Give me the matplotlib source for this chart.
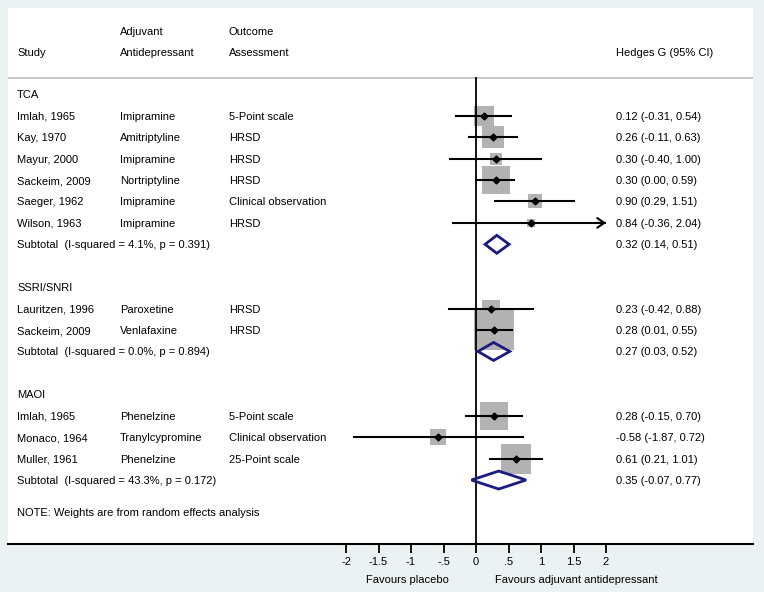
import matplotlib
matplotlib.use("Agg")
import matplotlib.pyplot as plt
import matplotlib.transforms as mtransforms
import numpy as np

plt.rcParams['font.family'] = ['Liberation Sans', 'DejaVu Sans']

# ---------------- data ----------------
groups = ["TCA", "SSRI/SNRI", "MAOI"]
study = ["Imlah, 1965", "Kay, 1970", "Mayur, 2000", "Sackeim, 2009", "Saeger, 1962", "Wilson, 1963",
         "Lauritzen, 1996", "Sackeim, 2009",
         "Imlah, 1965", "Monaco, 1964", "Muller, 1961"]
drug = ["Imipramine", "Amitriptyline", "Imipramine", "Nortriptyline", "Imipramine", "Imipramine",
        "Paroxetine", "Venlafaxine",
        "Phenelzine", "Tranylcypromine", "Phenelzine"]
outcome = ["5-Point scale", "HRSD", "HRSD", "HRSD", "Clinical observation", "HRSD",
           "HRSD", "HRSD",
           "5-Point scale", "Clinical observation", "25-Point scale"]
group_idx = [0, 0, 0, 0, 0, 0, 1, 1, 2, 2, 2]
g = [0.12, 0.26, 0.30, 0.30, 0.90, 0.84, 0.23, 0.28, 0.28, -0.58, 0.61]
lo = [-0.31, -0.11, -0.40, 0.00, 0.29, -0.36, -0.42, 0.01, -0.15, -1.87, 0.21]
hi = [0.54, 0.63, 1.00, 0.59, 1.51, 2.04, 0.88, 0.55, 0.70, 0.72, 1.01]
weights = [6.7, 8.1, 2.8, 13.1, 3.3, 1.1, 5.4, 26.7, 14.0, 3.8, 15.0]  # % (estimated)

sub_g = [0.32, 0.27, 0.35]
sub_lo = [0.14, 0.03, -0.07]
sub_hi = [0.51, 0.52, 0.77]
sub_i2 = [4.1, 0.0, 43.3]
sub_p = [0.391, 0.894, 0.172]

xticks = [-2, -1.5, -1, -0.5, 0, 0.5, 1, 1.5, 2]
xticklabels = ["-2", "-1.5", "-1", "-.5", "0", ".5", "1", "1.5", "2"]
axis_max = 2.0

# ---------------- style ----------------
BG = "#EAF2F3"
NAVY = "#1c1c80"
BOX = "#B2B2B2"
FS = 8

fig = plt.figure(figsize=(7.64, 5.92), dpi=100, facecolor=BG)
W, H = 764, 592
ax_l, ax_r, ax_t, ax_b = 8, 753, 8, 544
ax = fig.add_axes([ax_l / W, (H - ax_b) / H, (ax_r - ax_l) / W, (ax_b - ax_t) / H])
ax.set_facecolor("white")

zero_px, unit_px = 476.0, 65.0
ax.set_xlim((ax_l - zero_px) / unit_px, (ax_r - zero_px) / unit_px)
row0_px, row_px = 94.3, 21.43
ax.set_ylim((ax_b - row0_px) / row_px, (ax_t - row0_px) / row_px)

for s in ["top", "left", "right"]:
    ax.spines[s].set_visible(False)
ax.spines["bottom"].set_linewidth(1.5)
ax.set_yticks([])
ax.set_xticks(xticks)
ax.set_xticklabels(xticklabels, fontsize=FS)
ax.tick_params(axis="x", length=6.5, width=1.3, pad=3)

# x in axes fraction, y in data; shift down so the baseline sits half a cap-height below row centre
tr = mtransforms.offset_copy(ax.get_yaxis_transform(), fig=fig, y=-4, units="dots")
col_study, col_drug, col_out, col_ci = 0.0121, 0.1503, 0.2966, 0.8157


def txt(x, y, s):
    ax.text(x, y, s, transform=tr, fontsize=FS, va="baseline")


# headers
txt(col_drug, -2.97, "Adjuvant")
txt(col_out, -2.97, "Outcome")
txt(col_study, -1.99, "Study")
txt(col_drug, -1.99, "Antidepressant")
txt(col_out, -1.99, "Assessment")
txt(col_ci, -1.99, "Hedges G (95% CI)")
ax.axhline(-0.75, color="#BDBDBD", lw=1.2)

# zero line
ax.plot([0, 0], [-0.75, ax.get_ylim()[0]], color="black", lw=1.3, zorder=3)

sq_k = 7.74  # px per sqrt(weight)
row = 0
for gi, gname in enumerate(groups):
    txt(col_study, row, gname)
    row += 1
    for i in [k for k in range(len(study)) if group_idx[k] == gi]:
        txt(col_study, row, study[i])
        txt(col_drug, row, drug[i])
        txt(col_out, row, outcome[i])
        txt(col_ci, row, f"{g[i]:.2f} ({lo[i]:.2f}, {hi[i]:.2f})")
        side_pt = sq_k * np.sqrt(weights[i]) * 0.72
        ax.scatter([g[i]], [row], marker="s", s=side_pt ** 2, color=BOX, linewidths=0, zorder=2)
        if hi[i] > axis_max:
            ax.plot([lo[i], axis_max - 0.02], [row, row], color="black", lw=1.5, zorder=4)
            ax.annotate("", xy=(axis_max, row), xytext=(axis_max - 0.15, row),
                        arrowprops=dict(arrowstyle="->,head_length=0.5,head_width=0.35",
                                        lw=1.5, color="black", shrinkA=0, shrinkB=0),
                        zorder=4)
        else:
            ax.plot([lo[i], hi[i]], [row, row], color="black", lw=1.5, zorder=4)
        ax.plot([g[i]], [row], marker="D", ms=3.5, color="black", zorder=5)
        row += 1
    txt(col_study, row, f"Subtotal  (I-squared = {sub_i2[gi]:.1f}%, p = {sub_p[gi]:.3f})")
    txt(col_ci, row, f"{sub_g[gi]:.2f} ({sub_lo[gi]:.2f}, {sub_hi[gi]:.2f})")
    hh = 0.42
    ax.fill([sub_lo[gi], sub_g[gi], sub_hi[gi], sub_g[gi], sub_lo[gi]],
            [row, row - hh, row, row + hh, row], facecolor="none", edgecolor=NAVY,
            lw=2.0, zorder=6)
    row += 2

txt(col_study, row - 0.5, "NOTE: Weights are from random effects analysis")

# x-axis captions
xtr = mtransforms.offset_copy(ax.get_xaxis_transform(), fig=fig, y=-4, units="dots")
cap_y = (ax_b - 579) / (ax_b - ax_t)
ax.text(-1.05, cap_y, "Favours placebo", transform=xtr, fontsize=FS, ha="center", va="baseline")
ax.text(1.55, cap_y, "Favours adjuvant antidepressant", transform=xtr, fontsize=FS,
        ha="center", va="baseline")

fig.savefig("out.png", dpi=100, facecolor=BG)
